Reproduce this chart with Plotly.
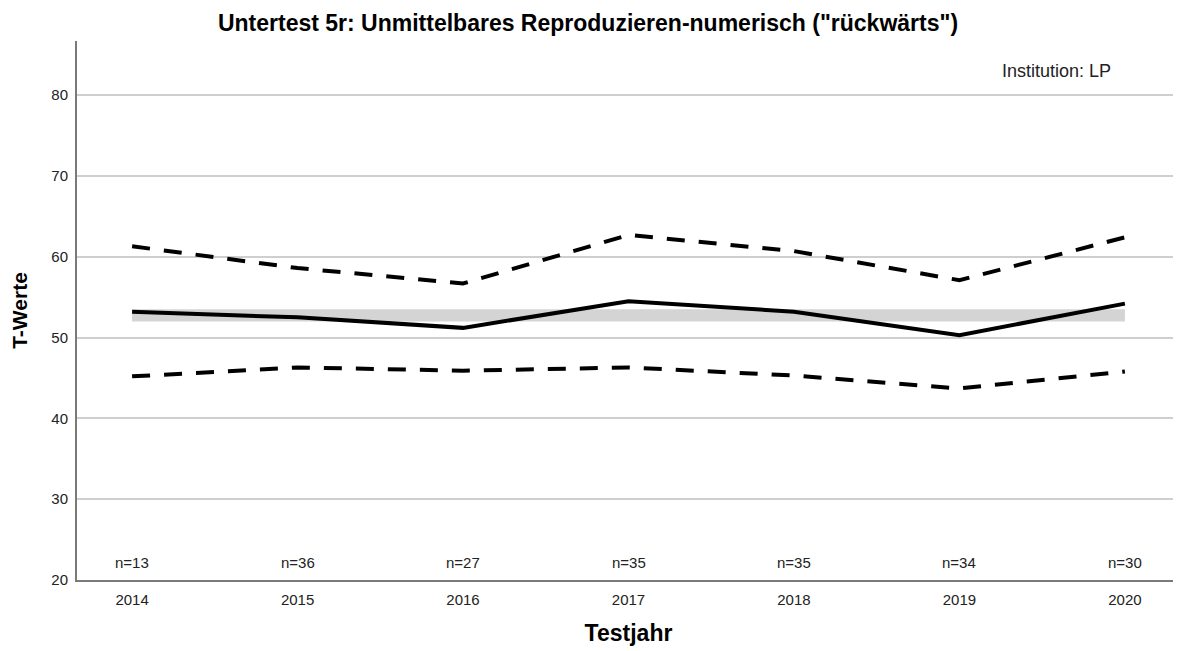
import plotly.graph_objects as go

years = [2014, 2015, 2016, 2017, 2018, 2019, 2020]
mean_vals = [53.2, 52.5, 51.2, 54.5, 53.2, 50.3, 54.2]
upper_vals = [61.3, 58.6, 56.7, 62.7, 60.7, 57.1, 62.4]
lower_vals = [45.2, 46.3, 45.9, 46.3, 45.3, 43.7, 45.8]
n_labels = ["n=13", "n=36", "n=27", "n=35", "n=35", "n=34", "n=30"]
band_low = 52.0
band_high = 53.5
y_ticks = [20, 30, 40, 50, 60, 70, 80]

FONT = "Liberation Sans, Arial, sans-serif"

W, H = 1173, 643          # page has an 8px body margin
L, R, T, B = 69, 1, 33, 71
PW = W - L - R
PH = H - T - B

fig = go.Figure()

# reference band
fig.add_trace(go.Scatter(
    x=[years[0], years[-1], years[-1], years[0], years[0]],
    y=[band_low, band_low, band_high, band_high, band_low],
    fill="toself", fillcolor="#d4d4d4", line=dict(width=0),
    mode="lines", hoverinfo="skip", showlegend=False))

fig.add_trace(go.Scatter(x=years, y=upper_vals, mode="lines",
                         line=dict(color="black", width=4, dash="18px,14px"),
                         showlegend=False))
fig.add_trace(go.Scatter(x=years, y=lower_vals, mode="lines",
                         line=dict(color="black", width=4, dash="18px,14px"),
                         showlegend=False))
fig.add_trace(go.Scatter(x=years, y=mean_vals, mode="lines",
                         line=dict(color="black", width=4),
                         showlegend=False))

for yr, lab in zip(years, n_labels):
    fig.add_annotation(x=yr, y=22.15, xref="x", yref="y", text=lab,
                       showarrow=False, font=dict(family=FONT, size=15, color="#222"))

inst_x = (1105 - L) / PW
inst_y = 1 - (63 - T) / PH
fig.add_annotation(x=inst_x, y=inst_y, xref="paper", yref="paper", text="Institution: LP",
                   showarrow=False, xanchor="right", yanchor="middle",
                   font=dict(family=FONT, size=18, color="#222"))

fig.update_layout(
    width=W, height=H,
    margin=dict(l=L, r=R, t=T, b=B),
    paper_bgcolor="white", plot_bgcolor="white",
    title=dict(text="<b>Untertest 5r: Unmittelbares Reproduzieren-numerisch (\"rückwärts\")</b>",
               x=(588 - 8) / W, xanchor="center", y=1 - 15 / H, yanchor="middle",
               font=dict(family=FONT, size=23, color="black")),
    font=dict(family=FONT, color="#222"),
)

fig.update_xaxes(range=[2013.667, 2020.333], tickmode="array", tickvals=years,
                 ticktext=[str(y) for y in years], showgrid=False,
                 showline=True, linecolor="#7a7a7a", linewidth=2,
                 ticks="outside", ticklen=5, tickcolor="rgba(0,0,0,0)",
                 tickfont=dict(size=15, family=FONT, color="#222"),
                 title=dict(text="<b>Testjahr</b>", font=dict(size=23, family=FONT, color="black"),
                            standoff=18),
                 zeroline=False)
fig.update_yaxes(range=[20, 86.7], tickmode="array", tickvals=y_ticks,
                 showgrid=True, gridcolor="#cfcfcf", gridwidth=1.5,
                 showline=True, linecolor="#7a7a7a", linewidth=2,
                 ticks="outside", ticklen=4, tickcolor="rgba(0,0,0,0)",
                 tickfont=dict(size=15, family=FONT, color="#222"),
                 title=dict(text="<b>T-Werte</b>", font=dict(size=21, family=FONT, color="black"),
                            standoff=22),
                 zeroline=False)

fig.write_html("out.html")
